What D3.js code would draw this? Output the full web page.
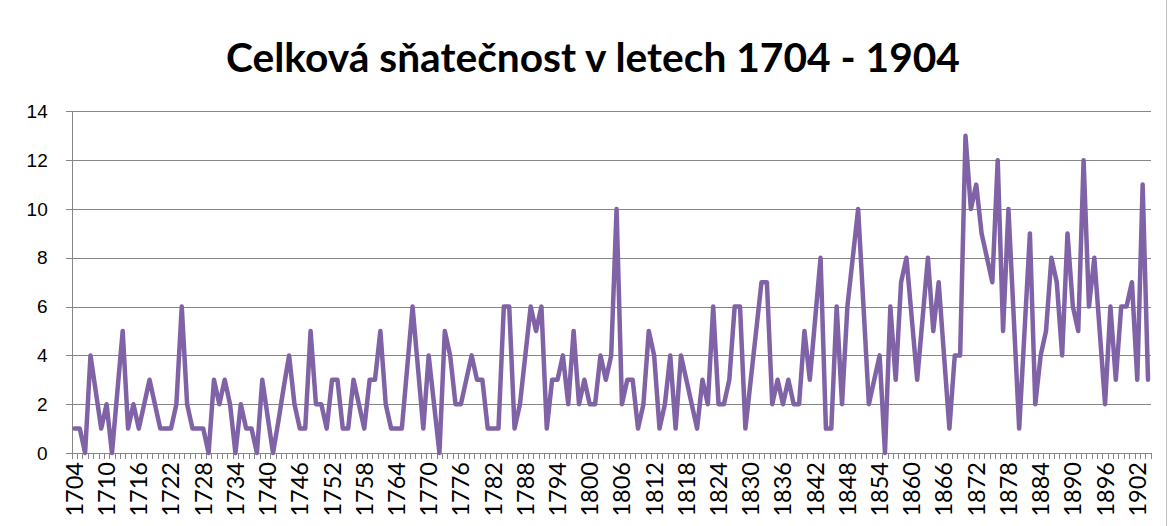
<!DOCTYPE html>
<html>
<head>
<meta charset="utf-8">
<script src="https://cdn.jsdelivr.net/npm/d3@7"></script>
<style>
  body { margin: 0; background: #fff; }
  svg { display: block; font-family: Lato, "Open Sans", sans-serif; }
  .grid line { stroke: #868686; stroke-width: 1; shape-rendering: crispEdges; }
  .axis-label { font-size: 19px; fill: #000; }
  .year-label { font-size: 23.5px; fill: #000; }
  .title { font-weight: bold; fill: #000; }
</style>
</head>
<body>
<div class="container"></div>
<script>
const TITLE = "Celková sňatečnost v letech 1704 - 1904";

const startYear = 1704;
const endYear = 1904;
const years = d3.range(startYear, endYear + 1);

// marriages per year (10 per row)
const marriages = [
  1, 1, 0, 4, 2.5, 1, 2, 0, 2.5, 5,        // 1704
  1, 2, 1, 2, 3, 2, 1, 1, 1, 2,            // 1714
  6, 2, 1, 1, 1, 0, 3, 2, 3, 2,            // 1724
  0, 2, 1, 1, 0, 3, 1.5, 0, 1.3, 2.7,      // 1734
  4, 2, 1, 1, 5, 2, 2, 1, 3, 3,            // 1744
  1, 1, 3, 2, 1, 3, 3, 5, 2, 1,            // 1754
  1, 1, 3.5, 6, 3.5, 1, 4, 2, 0, 5,        // 1764
  4, 2, 2, 3, 4, 3, 3, 1, 1, 1,            // 1774
  6, 6, 1, 2, 4, 6, 5, 6, 1, 3,            // 1784
  3, 4, 2, 5, 2, 3, 2, 2, 4, 3,            // 1794
  4, 10, 2, 3, 3, 1, 2, 5, 4, 1,           // 1804
  2, 4, 1, 4, 3, 2, 1, 3, 2, 6,            // 1814
  2, 2, 3, 6, 6, 1, 3, 5, 7, 7,            // 1824
  2, 3, 2, 3, 2, 2, 5, 3, 5.5, 8,          // 1834
  1, 1, 6, 2, 6, 8, 10, 6, 2, 3,           // 1844
  4, 0, 6, 3, 7, 8, 5.5, 3, 5.5, 8,        // 1854
  5, 7, 4, 1, 4, 4, 13, 10, 11, 9,         // 1864
  8, 7, 12, 5, 10, 5.5, 1, 5, 9, 2,        // 1874
  4, 5, 8, 7, 4, 9, 6, 5, 12, 6,           // 1884
  8, 5, 2, 6, 3, 6, 6, 7, 3, 11,           // 1894
  3                                        // 1904
];

const yTicks = d3.range(0, 15, 2);
const yearLabels = years.filter((d) => (d - startYear) % 6 === 0);

const data = years.map((year, i) => ({ year, value: marriages[i] }));

const W = 1169;
const H = 526;
const plot = { left: 71.7, right: 1150.7, top: 111.4, bottom: 453 };

const svg = d3
  .select(".container")
  .append("svg")
  .attr("width", W)
  .attr("height", H);

const x = d3
  .scaleBand()
  .domain(years)
  .range([plot.left, plot.right])
  .padding(0);

const cx = (year) => x(year) + x.bandwidth() / 2;

const y = d3.scaleLinear().domain([0, 14]).range([plot.bottom, plot.top]);

// horizontal gridlines, with a short tick left of the axis
svg
  .append("g")
  .attr("class", "grid")
  .selectAll("line")
  .data(yTicks)
  .join("line")
  .attr("x1", plot.left - 6)
  .attr("x2", plot.right)
  .attr("y1", (d) => Math.round(y(d)) + 0.5)
  .attr("y2", (d) => Math.round(y(d)) + 0.5);

// y axis line
svg
  .append("g")
  .attr("class", "grid")
  .append("line")
  .attr("x1", Math.round(plot.left) + 0.5)
  .attr("x2", Math.round(plot.left) + 0.5)
  .attr("y1", y(14))
  .attr("y2", y(0));

// y axis labels
svg
  .append("g")
  .attr("transform", `translate(${plot.left - 24},0)`)
  .call(d3.axisLeft(y).tickValues(yTicks).tickSize(0).tickPadding(0))
  .call((g) => g.select(".domain").remove())
  .selectAll("text")
  .attr("class", "axis-label")
  .attr("font-family", null)
  .attr("font-size", null);

// x axis tick marks at category boundaries
const bounds = years.map((d) => x(d)).concat([x(endYear) + x.bandwidth()]);
svg
  .append("g")
  .attr("class", "grid")
  .selectAll("line")
  .data(bounds)
  .join("line")
  .attr("x1", (d) => Math.round(d) + 0.5)
  .attr("x2", (d) => Math.round(d) + 0.5)
  .attr("y1", y(0))
  .attr("y2", y(0) + 6);

// rotated year labels
svg
  .append("g")
  .selectAll("text")
  .data(yearLabels)
  .join("text")
  .attr("class", "year-label")
  .attr("transform", (d) => `translate(${cx(d)},${plot.bottom + 9}) rotate(-90)`)
  .attr("text-anchor", "end")
  .attr("dy", "0.36em")
  .text((d) => d);

// the series
const line = d3
  .line()
  .x((d) => cx(d.year))
  .y((d) => y(d.value));

svg
  .append("path")
  .datum(data)
  .attr("fill", "none")
  .attr("stroke", "#7f63a6")
  .attr("stroke-width", 4.5)
  .attr("stroke-linejoin", "round")
  .attr("stroke-linecap", "round")
  .attr("d", line);

// title, scaled to the width it has in the original
const title = svg
  .append("text")
  .attr("class", "title")
  .attr("x", 593)
  .attr("y", 72)
  .attr("text-anchor", "middle")
  .attr("font-size", 36)
  .text(TITLE);
const len = title.node().getComputedTextLength();
title.attr("font-size", (36 * 734) / len);

// right edge of the chart area
svg
  .append("line")
  .attr("x1", W - 2.5)
  .attr("x2", W - 2.5)
  .attr("y1", 0)
  .attr("y2", H)
  .attr("stroke", "#bfbfbf");
</script>
</body>
</html>
